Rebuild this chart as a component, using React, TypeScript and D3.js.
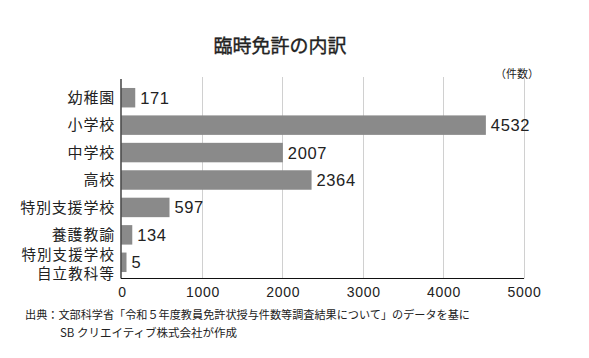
import React from "react";
import * as d3 from "d3";

const categories = ["幼稚園", "小学校", "中学校", "高校", "特別支援学校", "養護教諭", "特別支援学校\n自立教科等"];
const values = [171, 4532, 2007, 2364, 597, 134, 5];
const xTicks = [0, 1000, 2000, 3000, 4000, 5000];
const title = "臨時免許の内訳";
const unitLabel = "（件数）";
const sourceLines = [
  "出典：文部科学省「令和５年度教員免許状授与件数等調査結果について」のデータを基に",
  "SB クリエイティブ株式会社が作成",
];

const W = 589;
const H = 358;
const JP = "'Noto Sans CJK JP', 'Noto Sans', sans-serif";
const NUM = "'Liberation Sans', Arial, sans-serif";

export default function App() {
  const x = d3.scaleLinear().domain([0, 5000]).range([121.5, 523.5]);
  const y = d3
    .scaleBand<string>()
    .domain(categories)
    .range([84, 276])
    .paddingInner(0.29)
    .paddingOuter(0.145);
  const gridTop = 77;
  const axisY = 278.5;

  return (
    <svg
      width={W}
      height={H}
      style={{ position: "absolute", left: 0, top: 0, background: "#fff" }}
    >
      <rect width={W} height={H} fill="#fff" />
      <text
        x={280}
        y={53}
        textAnchor="middle"
        fontFamily={JP}
        fontSize={19}
        fontWeight={400}
        stroke="#222"
        strokeWidth={0.35}
        fill="#222"
      >
        {title}
      </text>
      <text x={517} y={78} textAnchor="middle" fontFamily={JP} fontSize={11} fill="#222">
        {unitLabel}
      </text>
      {xTicks.slice(1).map((t) => (
        <line
          key={"g" + t}
          x1={Math.round(x(t)) + 0.5}
          x2={Math.round(x(t)) + 0.5}
          y1={gridTop}
          y2={axisY}
          stroke="#d0d0d0"
          strokeWidth={1}
        />
      ))}
      {categories.map((c, i) => {
        const by = y(c)!;
        const bw = Math.max(x(values[i]) - x(0), 5);
        return (
          <g key={c}>
            <rect x={x(0)} y={by} width={bw} height={y.bandwidth()} fill="#8a8a8a" />
            <text
              x={x(0) + bw + 5}
              y={by + y.bandwidth() / 2 + 6}
              fontFamily={NUM}
              fontSize={16.5}
              letterSpacing={0.6}
              fill="#222"
            >
              {values[i]}
            </text>
          </g>
        );
      })}
      {categories.map((c) => {
        const lines = c.split("\n");
        const cy = y(c)! + y.bandwidth() / 2;
        return lines.map((ln, j) => (
          <text
            key={c + j}
            x={115}
            y={cy + 5.3 + (lines.length > 1 ? (j === 0 ? -8 : 11.5) : 0)}
            textAnchor="end"
            fontFamily={JP}
            fontSize={lines.length > 1 ? 14.5 : 15}
            letterSpacing={lines.length > 1 ? 1.1 : 0.8}
            fill="#222"
          >
            {ln}
          </text>
        ));
      })}
      <line x1={121} x2={121} y1={gridTop + 2} y2={axisY} stroke="#111" strokeWidth={1.2} />
      <line x1={121} x2={524} y1={axisY} y2={axisY} stroke="#111" strokeWidth={1.2} />
      {xTicks.map((t) => (
        <text
          key={"t" + t}
          x={x(t) + 1}
          y={296.5}
          textAnchor="middle"
          fontFamily={NUM}
          fontSize={14}
          letterSpacing={0.7}
          fill="#222"
        >
          {t}
        </text>
      ))}
      <text
        x={25}
        y={319}
        fontFamily={JP}
        fontSize={11.5}
        textLength={445}
        lengthAdjust="spacingAndGlyphs"
        fill="#222"
      >
        {sourceLines[0]}
      </text>
      <text x={60} y={337} fontFamily={JP} fontSize={11.5} fill="#222">
        {sourceLines[1]}
      </text>
    </svg>
  );
}
